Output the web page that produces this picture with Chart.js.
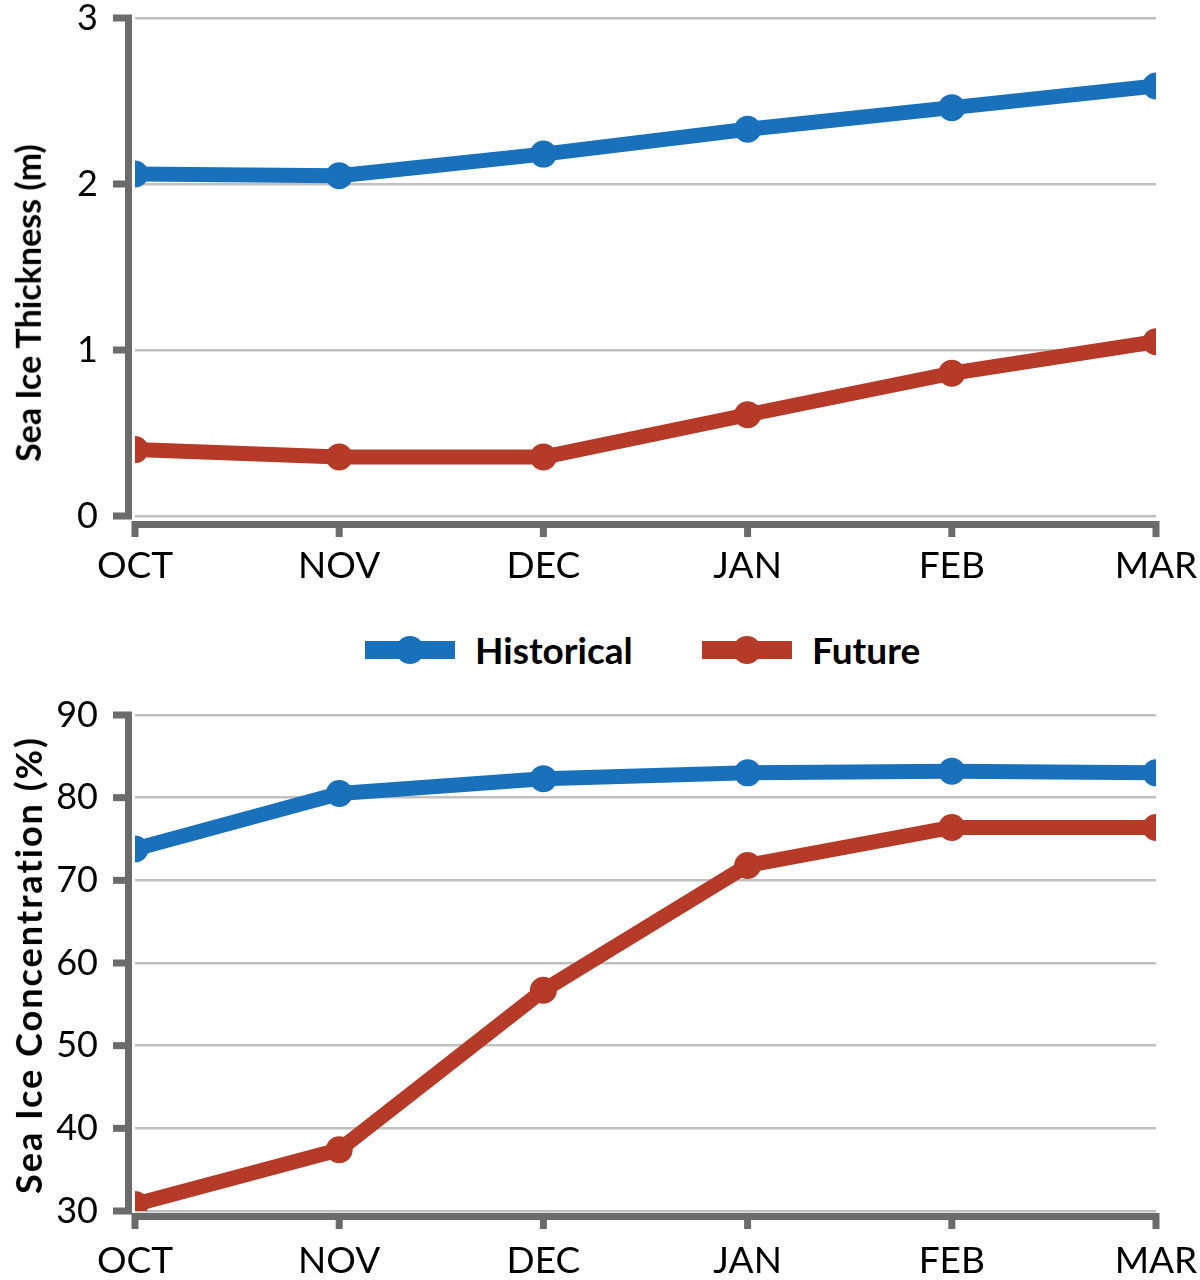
<!DOCTYPE html>
<html>
<head>
<meta charset="utf-8">
<script src="https://cdn.jsdelivr.net/npm/chart.js@4.4.1/dist/chart.umd.min.js"></script>
<style>
  html, body { margin: 0; padding: 0; background: #fff; }
  #wrap { position: relative; width: 1200px; height: 1280px; overflow: hidden; }
  canvas { position: absolute; left: 0; }
  #c1 { top: 0; }
  #c2 { top: 680px; }
  .ytitle {
    position: absolute; font-family: Lato, sans-serif; font-weight: 700; color: #000;
    white-space: nowrap; transform-origin: center center; line-height: 1;
  }
  #legend { position: absolute; top: 650px; left: 0; width: 1200px; height: 0; }
  .leg { position: absolute; top: 0; height: 0; }
  .leg .ln { position: absolute; top: -9px; height: 18px; width: 90px; left: 0; }
  .leg .dot { position: absolute; top: -14px; width: 28px; height: 28px; border-radius: 50%; left: 31px; }
  .leg .tx { position: absolute; left: 110px; top: -22px; font-family: Lato, sans-serif; font-weight: 700; font-size: 37px; line-height: 44px; color: #000; white-space: nowrap; }
</style>
</head>
<body>
<div id="wrap">
  <canvas id="c1" width="1200" height="600"></canvas>
  <canvas id="c2" width="1200" height="600"></canvas>
  <div id="t1" class="ytitle"></div>
  <div id="t2" class="ytitle"></div>
  <div id="legend"></div>
</div>
<script>
// ---- Data ----
const months = ['OCT', 'NOV', 'DEC', 'JAN', 'FEB', 'MAR'];
const thicknessHistorical = [2.06, 2.05, 2.18, 2.33, 2.46, 2.59];
const thicknessFuture = [0.40, 0.355, 0.355, 0.61, 0.86, 1.05];
const concentrationHistorical = [73.8, 80.5, 82.3, 83.0, 83.2, 83.0];
const concentrationFuture = [30.8, 37.4, 56.7, 71.8, 76.4, 76.4];
const seriesNames = ['Historical', 'Future'];
const thicknessTitle = 'Sea Ice Thickness (m)';
const concentrationTitle = 'Sea Ice Concentration (%)';

const BLUE = '#1a71bb';
const RED = '#b53a28';
const AXIS = '#6b6b6b';

Chart.defaults.devicePixelRatio = 1;

function axesPlugin(xOff) {
  return {
    id: 'customAxes',
    afterDraw(chart) {
      const ctx = chart.ctx;
      const { left, right, top, bottom } = chart.chartArea;
      const ys = chart.scales.y, xs = chart.scales.x;
      ctx.save();
      ctx.fillStyle = AXIS;
      const yTop = ys.getPixelForValue(ys.max);
      ctx.fillRect(left - 10, yTop - 3, 7, bottom - yTop + 5);
      ys.ticks.forEach((t, i) => {
        const p = ys.getPixelForTick(i);
        ctx.fillRect(left - 22, p - 3.5, 19, 7);
      });
      ctx.fillRect(left - 2, bottom + xOff, right - left + 4, 7);
      xs.ticks.forEach((t, i) => {
        const p = xs.getPixelForTick(i);
        ctx.fillRect(p - 3.5, bottom + xOff, 7, 16);
      });
      ctx.restore();
    }
  };
}

function zeroPad(s) {
  s.paddingTop = 0; s.paddingBottom = 0; s.paddingLeft = 0; s.paddingRight = 0;
}

function makeChart(id, hist, fut, yMin, yMax, step, topPad, xHeight, xPad, xOff) {
  const ds = (label, data, color) => ({
    label, data,
    borderColor: color, backgroundColor: color,
    borderWidth: 15, pointRadius: 13.5, pointHoverRadius: 13.5,
    pointBorderWidth: 0, pointBackgroundColor: color,
    tension: 0, clip: 0, borderCapStyle: 'butt', borderJoinStyle: 'round'
  });
  return new Chart(document.getElementById(id), {
    type: 'line',
    data: {
      labels: months,
      datasets: [ds(seriesNames[0], hist, BLUE), ds(seriesNames[1], fut, RED)]
    },
    options: {
      responsive: false, animation: false,
      events: [],
      layout: { padding: { top: topPad, right: 44, left: 0, bottom: 0 } },
      plugins: { legend: { display: false }, tooltip: { enabled: false } },
      scales: {
        x: {
          type: 'category', offset: false,
          grid: { display: false, drawTicks: false },
          border: { display: false },
          ticks: { color: '#000', font: { family: 'Lato, sans-serif', size: 37, weight: 400 }, padding: xPad, maxRotation: 0, autoSkip: false },
          afterFit: s => { s.height = xHeight; zeroPad(s); }
        },
        y: {
          min: yMin, max: yMax,
          grid: { color: '#c0c0c0', lineWidth: 2.5, drawTicks: false },
          border: { display: false },
          ticks: { stepSize: step, color: '#000', font: { family: 'Lato, sans-serif', size: 36, weight: 400 }, padding: 37 },
          afterFit: s => { s.width = 135; zeroPad(s); }
        }
      }
    },
    plugins: [axesPlugin(xOff)]
  });
}

makeChart('c1', thicknessHistorical, thicknessFuture, 0, 3, 1, 18, 84, 28, 5);
makeChart('c2', concentrationHistorical, concentrationFuture, 30, 90, 10, 35, 69, 28, 2);

function placeTitle(id, text, size, spacing, cx, cy) {
  const el = document.getElementById(id);
  el.textContent = text;
  el.style.fontSize = size + 'px';
  el.style.letterSpacing = spacing + 'px';
  const w = el.offsetWidth, h = el.offsetHeight;
  el.style.left = (cx - w / 2) + 'px';
  el.style.top = (cy - h / 2) + 'px';
  el.style.transform = 'rotate(-90deg)';
}
placeTitle('t1', thicknessTitle, 34, 0, 28, 303);
placeTitle('t2', concentrationTitle, 36, 2, 28, 965);

const legend = document.getElementById('legend');
[[seriesNames[0], BLUE, 365], [seriesNames[1], RED, 702]].forEach(([name, color, x]) => {
  const item = document.createElement('div');
  item.className = 'leg';
  item.style.left = x + 'px';
  item.innerHTML = '<div class="ln" style="background:' + color + '"></div>' +
    '<div class="dot" style="background:' + color + '"></div>' +
    '<div class="tx"></div>';
  item.querySelector('.tx').textContent = name;
  legend.appendChild(item);
});
</script>
</body>
</html>
